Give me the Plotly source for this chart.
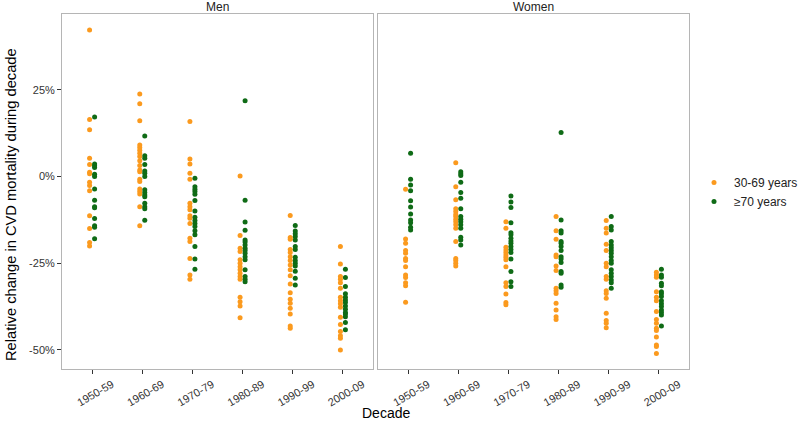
import plotly.graph_objects as go

decades = ["1950-59", "1960-69", "1970-79", "1980-89", "1990-99", "2000-09"]
panels = ["Men", "Women"]
series_names = ["30-69 years", "≥70 years"]
series_colors = ["#FB9A1E", "#0F6B16"]
y_tick_vals = [-50, -25, 0, 25]
y_tick_text = ["-50%", "-25%", "0%", "25%"]

# Men, 30-69 years (relative change, %)
men_young_1950 = [42.3, 16.5, 13.5, 5.3, 3.5, 1.25, 0.8, -1.6, -2.6, -4.1, -11.3, -15.0, -19.0, -20.0]
men_young_1960 = [23.8, 21.0, 16.1, 9.1, 8.4, 7.6, 6.7, 5.8, 4.6, 3.2, 1.9, 1.4, -0.8, -1.4, -3.6, -4.3, -5.0, -8.7, -14.2]
men_young_1970 = [15.9, 5.1, 3.65, 1.0, -0.8, -7.7, -8.7, -9.6, -11.3, -12.0, -13.5, -17.8, -18.75, -23.6, -28.4, -29.6]
men_young_1980 = [0.2, -17.0, -20.7, -21.6, -24.0, -25.0, -26.0, -26.9, -27.9, -28.8, -29.6, -34.8, -36.1, -37.3, -40.7]
men_young_1990 = [-11.2, -17.6, -18.1, -21.0, -21.9, -23.1, -24.2, -25.5, -26.9, -28.6, -31.0, -33.5, -35.4, -36.5, -38.0, -39.6, -43.1, -43.75]
men_young_2000 = [-20.2, -25.2, -28.8, -29.6, -30.6, -32.2, -34.8, -35.8, -36.7, -37.7, -40.6, -42.7, -44.7, -45.9, -46.6, -50.0]

# Men, >=70 years
men_old_1950 = [17.2, 3.65, 3.1, 2.6, 0.7, 0.0, -3.6, -6.8, -8.7, -9.0, -12.1, -14.2, -14.6, -17.9]
men_old_1960 = [11.7, 6.0, 5.3, 3.5, 1.6, 1.0, 0.0, -3.8, -4.6, -5.3, -5.8, -7.7, -8.7, -9.3, -12.6]
men_old_1970 = [-0.5, -2.9, -3.65, -4.3, -5.1, -6.9, -9.9, -11.7, -12.7, -13.5, -14.4, -15.6, -16.8, -20.2, -23.8, -26.7]
men_old_1980 = [21.9, -6.8, -13.1, -15.5, -18.3, -18.9, -19.7, -20.7, -21.3, -22.1, -23.1, -24.0, -26.9, -28.8, -29.6, -30.3]
men_old_1990 = [-14.1, -15.7, -16.5, -17.3, -18.3, -20.2, -21.0, -23.3, -24.2, -25.0, -25.8, -27.3, -29.3, -31.25]
men_old_2000 = [-26.7, -29.1, -31.7, -33.8, -34.8, -35.6, -36.3, -37.3, -38.3, -39.2, -39.6, -40.4, -42.1, -44.2]

# Women, 30-69 years
women_young_1950 = [-3.65, -18.0, -19.2, -21.3, -22.1, -23.6, -24.2, -26.0, -28.4, -29.1, -30.6, -31.5, -36.25]
women_young_1960 = [4.0, -2.9, -6.7, -9.3, -10.1, -10.9, -11.5, -12.3, -13.0, -13.9, -14.9, -18.75, -23.6, -24.2, -25.0, -25.8]
women_young_1970 = [-13.0, -14.9, -20.4, -21.2, -21.9, -22.6, -23.3, -24.0, -26.0, -30.6, -31.7, -33.9, -36.3, -37.0]
women_young_1980 = [-11.5, -15.6, -18.1, -22.6, -23.1, -25.8, -27.1, -32.2, -32.9, -33.7, -36.5, -38.5, -40.4, -41.2]
women_young_1990 = [-12.7, -14.9, -16.3, -19.5, -21.3, -25.0, -26.0, -28.8, -29.6, -32.9, -33.7, -35.1, -39.4, -41.5, -42.3, -43.6]
women_young_2000 = [-27.6, -28.4, -29.0, -33.2, -34.8, -35.8, -38.9, -41.2, -42.3, -43.75, -44.4, -46.3, -48.6, -49.0, -51.0]

# Women, >=70 years
women_old_1950 = [6.7, -0.8, -2.4, -4.1, -7.0, -8.8, -10.8, -12.5, -13.3, -14.6, -15.4]
women_old_1960 = [1.4, 0.8, 0.3, -1.6, -4.6, -6.25, -9.3, -11.5, -12.3, -13.0, -13.9, -14.9, -17.5, -18.3, -19.7]
women_old_1970 = [-5.6, -7.3, -8.9, -13.3, -16.2, -16.8, -17.8, -18.6, -19.2, -20.2, -21.0, -21.9, -23.8, -27.4, -30.3, -31.7]
women_old_1980 = [12.7, -12.5, -15.6, -16.3, -18.75, -19.2, -20.2, -21.3, -23.1, -23.8, -24.8, -27.4, -27.9, -31.25, -31.9]
women_old_1990 = [-11.5, -14.4, -15.4, -18.75, -19.7, -20.5, -21.3, -22.1, -23.1, -24.2, -25.0, -26.9, -27.9, -28.8, -29.8, -30.6, -32.2]
women_old_2000 = [-26.7, -28.4, -29.0, -30.8, -31.5, -33.2, -33.8, -34.6, -35.8, -36.7, -37.5, -38.5, -39.2, -39.9, -43.1]

men_young = [men_young_1950, men_young_1960, men_young_1970, men_young_1980, men_young_1990, men_young_2000]
men_old = [men_old_1950, men_old_1960, men_old_1970, men_old_1980, men_old_1990, men_old_2000]
women_young = [women_young_1950, women_young_1960, women_young_1970, women_young_1980, women_young_1990, women_young_2000]
women_old = [women_old_1950, women_old_1960, women_old_1970, women_old_1980, women_old_1990, women_old_2000]


def flatten(groups):
    xs, ys = [], []
    for dec, vals in zip(decades, groups):
        xs += [dec] * len(vals)
        ys += vals
    return xs, ys


FONT = "Liberation Sans, Arial, Helvetica, sans-serif"
W, H = 800, 432
# panel boxes in pixels (left, right, top, bottom)
PX = [(62, 373), (378, 689)]
PT, PB = 14, 369
y_dom = [1 - PB / H, 1 - PT / H]
x_doms = [[l / W, r / W] for l, r in PX]

fig = go.Figure()

panel_data = [(men_young, men_old), (women_young, women_old)]
for p, (young, old) in enumerate(panel_data):
    xa = "x" if p == 0 else "x2"
    ya = "y" if p == 0 else "y2"
    for s, groups in enumerate([young, old]):
        xs, ys = flatten(groups)
        fig.add_trace(go.Scatter(
            x=xs, y=ys, mode="markers", name=series_names[s],
            legendgroup=series_names[s], showlegend=(p == 0),
            offsetgroup=str(s),
            marker=dict(color=series_colors[s], size=5, line=dict(width=0)),
            xaxis=xa, yaxis=ya,
        ))

axis_common = dict(
    type="category", categoryorder="array", categoryarray=decades,
    range=[-0.6, 5.6], showgrid=False, zeroline=False,
    showline=True, linecolor="#b5b5b5", linewidth=1, mirror=True,
    ticks="outside", ticklen=4, tickcolor="#333333", tickwidth=1,
    tickangle=-30, ticklabelshift=20,
    tickfont=dict(family=FONT, size=11, color="#333333"),
)
yaxis_common = dict(
    range=[-55.5, 46.9], showgrid=False, zeroline=False,
    showline=True, linecolor="#b5b5b5", linewidth=1, mirror=True,
    tickfont=dict(family=FONT, size=11, color="#333333"),
    tickcolor="#333333", ticklen=4, tickwidth=1,
)

fig.update_layout(
    width=W, height=H,
    margin=dict(l=0, r=0, t=0, b=0, autoexpand=False),
    paper_bgcolor="white", plot_bgcolor="white",
    scattermode="group", scattergap=0.8,
    xaxis=dict(domain=x_doms[0], anchor="y", **axis_common),
    xaxis2=dict(domain=x_doms[1], anchor="y2", **axis_common),
    yaxis=dict(domain=y_dom, anchor="x", ticks="outside",
               tickvals=y_tick_vals, ticktext=y_tick_text, **yaxis_common),
    yaxis2=dict(domain=y_dom, anchor="x2", ticks="", showticklabels=False, **yaxis_common),
    legend=dict(x=694 / W, y=1 - 168 / H, xanchor="left", yanchor="top",
                font=dict(family=FONT, size=12, color="#222222"),
                bgcolor="rgba(0,0,0,0)", itemsizing="trace", tracegroupgap=0),
    font=dict(family=FONT),
    annotations=[
        dict(text=panels[0], x=sum(x_doms[0]) / 2, y=1 - 7 / H, xref="paper", yref="paper",
             xanchor="center", yanchor="middle", showarrow=False,
             font=dict(family=FONT, size=12, color="#222222")),
        dict(text=panels[1], x=sum(x_doms[1]) / 2, y=1 - 7 / H, xref="paper", yref="paper",
             xanchor="center", yanchor="middle", showarrow=False,
             font=dict(family=FONT, size=12, color="#222222")),
        dict(text="Decade", x=386 / W, y=1 - 413 / H, xref="paper", yref="paper",
             xanchor="center", yanchor="middle", showarrow=False,
             font=dict(family=FONT, size=14, color="black")),
        dict(text="Relative change in CVD mortality during decade", x=11 / W, y=1 - 205 / H,
             xref="paper", yref="paper", textangle=-90, showarrow=False,
             xanchor="center", yanchor="middle",
             font=dict(family=FONT, size=14.7, color="black")),
    ],
)

fig.write_html("out.html", config={"displayModeBar": False},
               post_script="document.body.style.margin='0';document.body.style.padding='0';")
